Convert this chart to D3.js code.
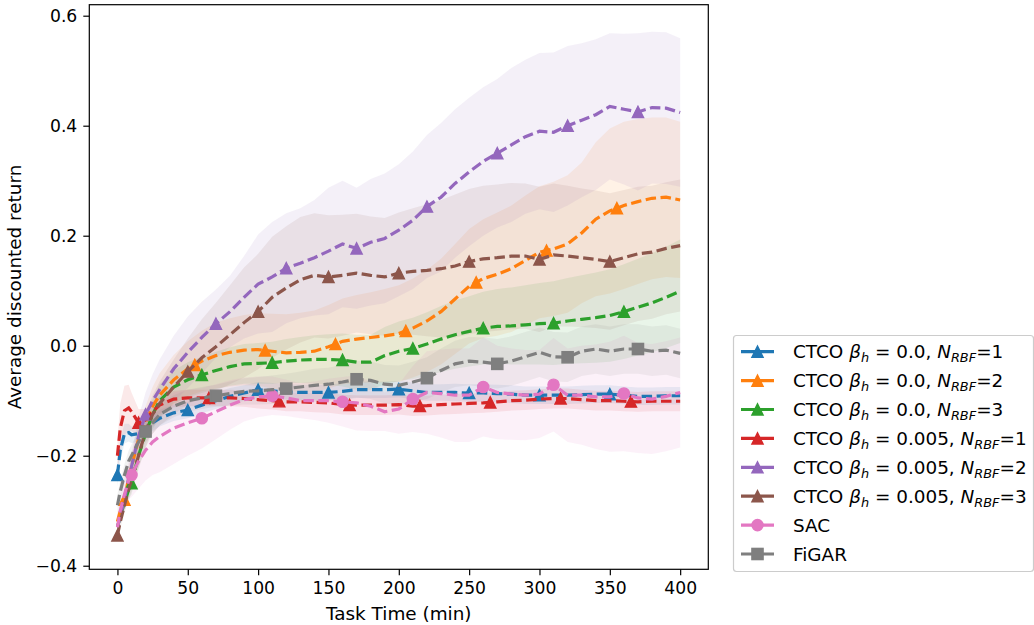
<!DOCTYPE html>
<meta charset="utf-8">
<title>Average discounted return</title>
<script src="https://cdn.jsdelivr.net/npm/d3@7"></script>
<style>
body {margin: 0; background: #fff;}
text {font-family: "DejaVu Sans", sans-serif; fill: #000;}
</style>
<body>
<div id="chart"></div>
<script>
// sampled task times (min)
var times = [0,2,5,8,10,15,20,25,30,40,50,60,70,80,90,100,110,120,130,140,150,160,170,180,190,200,
  210,220,230,240,250,260,270,280,290,300,310,320,330,340,350,360,370,380,390,400];

// mean returns
var b0n1 = [-0.235,-0.19,-0.16,-0.158,-0.162,-0.16,-0.15,-0.14,-0.132,-0.122,-0.117,-0.108,-0.1,-0.092,-0.086,-0.08,-0.082,-0.084,-0.085,-0.085,-0.085,-0.083,-0.08,-0.08,-0.08,-0.079,
  -0.082,-0.085,-0.085,-0.085,-0.086,-0.086,-0.087,-0.088,-0.09,-0.09,-0.09,-0.09,-0.089,-0.088,-0.088,-0.09,-0.092,-0.092,-0.091,-0.091];
var b0n2 = [-0.32,-0.3,-0.28,-0.24,-0.22,-0.17,-0.14,-0.11,-0.09,-0.062,-0.042,-0.028,-0.018,-0.012,-0.008,-0.007,-0.01,-0.013,-0.012,-0.01,-0.002,0.008,0.012,0.015,0.018,0.022,
  0.032,0.045,0.062,0.085,0.108,0.122,0.13,0.14,0.155,0.17,0.176,0.185,0.205,0.23,0.245,0.255,0.262,0.268,0.27,0.265];
var b0n3 = [-0.33,-0.31,-0.285,-0.262,-0.25,-0.2,-0.16,-0.125,-0.1,-0.075,-0.062,-0.053,-0.045,-0.038,-0.033,-0.032,-0.031,-0.028,-0.026,-0.025,-0.025,-0.026,-0.03,-0.03,-0.018,-0.01,
  -0.005,0.003,0.012,0.02,0.026,0.032,0.035,0.036,0.038,0.04,0.041,0.045,0.048,0.051,0.055,0.062,0.07,0.078,0.088,0.099];
var b5n1 = [-0.2,-0.15,-0.118,-0.113,-0.12,-0.14,-0.135,-0.12,-0.108,-0.097,-0.095,-0.095,-0.095,-0.095,-0.096,-0.098,-0.1,-0.102,-0.102,-0.103,-0.104,-0.107,-0.108,-0.108,-0.108,-0.107,
  -0.11,-0.109,-0.107,-0.106,-0.105,-0.104,-0.102,-0.1,-0.099,-0.097,-0.096,-0.096,-0.098,-0.1,-0.1,-0.101,-0.102,-0.101,-0.101,-0.101];
var b5n2 = [-0.33,-0.31,-0.28,-0.24,-0.22,-0.165,-0.125,-0.1,-0.08,-0.042,-0.012,0.015,0.04,0.062,0.088,0.112,0.125,0.141,0.15,0.16,0.172,0.185,0.177,0.188,0.195,0.21,
  0.228,0.253,0.27,0.295,0.316,0.335,0.35,0.365,0.38,0.39,0.388,0.4,0.41,0.42,0.435,0.43,0.425,0.433,0.432,0.424];
var b5n3 = [-0.345,-0.32,-0.29,-0.26,-0.245,-0.2,-0.155,-0.125,-0.105,-0.075,-0.047,-0.022,-0.002,0.02,0.042,0.062,0.088,0.105,0.12,0.128,0.125,0.128,0.132,0.128,0.125,0.132,
  0.135,0.137,0.14,0.145,0.153,0.158,0.16,0.163,0.163,0.157,0.165,0.163,0.16,0.157,0.153,0.16,0.167,0.17,0.177,0.182];
var sac = [-0.33,-0.3,-0.27,-0.245,-0.235,-0.21,-0.19,-0.175,-0.165,-0.15,-0.14,-0.132,-0.12,-0.108,-0.098,-0.093,-0.091,-0.095,-0.1,-0.1,-0.1,-0.102,-0.104,-0.11,-0.12,-0.115,
  -0.097,-0.085,-0.087,-0.09,-0.09,-0.075,-0.085,-0.088,-0.09,-0.088,-0.071,-0.09,-0.09,-0.093,-0.093,-0.087,-0.095,-0.097,-0.092,-0.085];
var figar = [-0.29,-0.265,-0.235,-0.21,-0.2,-0.175,-0.156,-0.14,-0.125,-0.11,-0.1,-0.095,-0.091,-0.087,-0.083,-0.082,-0.08,-0.078,-0.075,-0.072,-0.07,-0.066,-0.061,-0.063,-0.07,-0.072,
  -0.066,-0.059,-0.045,-0.033,-0.028,-0.03,-0.033,-0.028,-0.02,-0.012,-0.02,-0.021,-0.01,-0.006,-0.01,-0.006,-0.006,-0.01,-0.008,-0.014];

// spread (half width of the shaded band)
var b0n1Sd = [0.02,0.02,0.018,0.016,0.015,0.015,0.015,0.015,0.015,0.015,0.015,0.015,0.015,0.015,0.014,0.014,0.014,0.014,0.014,0.014,0.014,0.015,0.015,0.015,0.015,0.015,
  0.015,0.015,0.015,0.016,0.016,0.016,0.016,0.016,0.016,0.016,0.016,0.016,0.016,0.016,0.016,0.016,0.016,0.016,0.016,0.016];
var b0n2Sd = [0.01,0.012,0.015,0.018,0.02,0.025,0.03,0.035,0.04,0.045,0.05,0.055,0.06,0.062,0.064,0.066,0.068,0.07,0.072,0.074,0.076,0.078,0.08,0.082,0.085,0.088,
  0.09,0.093,0.096,0.1,0.104,0.108,0.112,0.115,0.118,0.12,0.122,0.125,0.128,0.14,0.15,0.152,0.15,0.147,0.145,0.142];
var b0n3Sd = [0.01,0.012,0.015,0.017,0.02,0.022,0.025,0.027,0.03,0.03,0.032,0.033,0.034,0.035,0.036,0.037,0.038,0.04,0.042,0.044,0.046,0.048,0.05,0.05,0.052,0.054,
  0.056,0.058,0.06,0.062,0.064,0.066,0.068,0.07,0.072,0.074,0.076,0.078,0.08,0.082,0.084,0.086,0.088,0.09,0.092,0.094];
var b5n1Sd = [0.03,0.045,0.045,0.042,0.035,0.025,0.02,0.018,0.016,0.015,0.015,0.015,0.015,0.015,0.015,0.016,0.016,0.017,0.017,0.018,0.018,0.018,0.018,0.018,0.018,0.018,
  0.018,0.018,0.018,0.018,0.018,0.018,0.018,0.018,0.018,0.018,0.018,0.018,0.018,0.018,0.018,0.018,0.018,0.018,0.018,0.018];
var b5n2Sd = [0.01,0.012,0.015,0.02,0.025,0.035,0.04,0.048,0.055,0.06,0.065,0.065,0.062,0.065,0.075,0.09,0.1,0.1,0.1,0.105,0.115,0.115,0.11,0.115,0.118,0.12,
  0.125,0.13,0.135,0.135,0.135,0.135,0.135,0.14,0.14,0.142,0.145,0.145,0.14,0.137,0.133,0.137,0.143,0.138,0.138,0.135];
var b5n3Sd = [0.01,0.012,0.015,0.018,0.02,0.025,0.03,0.035,0.04,0.05,0.06,0.07,0.08,0.09,0.1,0.105,0.11,0.112,0.114,0.113,0.112,0.11,0.108,0.107,0.107,0.11,
  0.115,0.12,0.125,0.13,0.132,0.133,0.133,0.133,0.132,0.132,0.13,0.128,0.126,0.125,0.124,0.123,0.122,0.121,0.12,0.12];
var sacSd = [0.02,0.025,0.03,0.035,0.04,0.05,0.055,0.06,0.065,0.065,0.06,0.055,0.05,0.045,0.04,0.037,0.035,0.033,0.032,0.035,0.04,0.045,0.05,0.045,0.035,0.045,
  0.06,0.075,0.08,0.085,0.085,0.09,0.085,0.083,0.082,0.08,0.085,0.085,0.09,0.095,0.1,0.105,0.1,0.1,0.1,0.1];
var figarSd = [0.02,0.02,0.02,0.02,0.02,0.02,0.02,0.02,0.02,0.02,0.02,0.02,0.02,0.022,0.024,0.025,0.026,0.027,0.028,0.03,0.03,0.032,0.033,0.034,0.035,0.036,
  0.037,0.038,0.04,0.042,0.044,0.045,0.045,0.045,0.045,0.045,0.045,0.045,0.045,0.045,0.045,0.045,0.045,0.045,0.045,0.045];

// legend labels
var betas = ["0.0", "0.0", "0.0", "0.005", "0.005", "0.005"];
var nRbf = ["1", "2", "3", "1", "2", "3"];
var otherNames = ["SAC", "FiGAR"];
var xTicks = [0, 50, 100, 150, 200, 250, 300, 350, 400];
var yTicks = [-0.4, -0.2, 0.0, 0.2, 0.4, 0.6];

var series = [
  {mean: b0n1, sd: b0n1Sd, color: "#1f77b4", marker: "tri", offset: 0},
  {mean: b0n2, sd: b0n2Sd, color: "#ff7f0e", marker: "tri", offset: 5},
  {mean: b0n3, sd: b0n3Sd, color: "#2ca02c", marker: "tri", offset: 10},
  {mean: b5n1, sd: b5n1Sd, color: "#d62728", marker: "tri", offset: 15},
  {mean: b5n2, sd: b5n2Sd, color: "#9467bd", marker: "tri", offset: 20},
  {mean: b5n3, sd: b5n3Sd, color: "#8c564b", marker: "tri", offset: 0},
  {mean: sac, sd: sacSd, color: "#e377c2", marker: "circle", offset: 10},
  {mean: figar, sd: figarSd, color: "#7f7f7f", marker: "square", offset: 20}
];

var margin = {top: 4.7, left: 89.3},
    width = 619,
    height = 564.6;

var svg = d3.select("#chart")
  .append("svg")
    .attr("width", 1034)
    .attr("height", 625);

var g = svg.append("g")
  .attr("transform", "translate(" + margin.left + "," + margin.top + ")");

var x = d3.scaleLinear().domain([-20, 420]).range([0, width]);
var y = d3.scaleLinear().domain([-0.4065, 0.62]).range([height, 0]);

g.append("clipPath").attr("id", "plotclip")
  .append("rect").attr("width", width).attr("height", height);

var plot = g.append("g").attr("clip-path", "url(#plotclip)");

// value of a series at time t, to sit markers on the line
function valueAt(arr, t) {
  for (var i = 0; i < times.length - 1; i++) {
    if (t >= times[i] && t <= times[i + 1]) {
      var f = (t - times[i]) / (times[i + 1] - times[i]);
      return arr[i] + f * (arr[i + 1] - arr[i]);
    }
  }
  return arr[arr.length - 1];
}

var ms = 11.2;
function drawMarker(sel, kind, color, cx, cy) {
  if (kind == "circle") {
    sel.append("circle").attr("cx", cx).attr("cy", cy).attr("r", ms / 2)
      .attr("fill", color).attr("stroke", color).attr("stroke-width", 1.4);
  } else if (kind == "square") {
    sel.append("rect").attr("x", cx - ms / 2).attr("y", cy - ms / 2)
      .attr("width", ms).attr("height", ms)
      .attr("fill", color).attr("stroke", color).attr("stroke-width", 1.4);
  } else {
    sel.append("path")
      .attr("d", "M" + cx + "," + (cy - ms / 2) + "L" + (cx + ms / 2) + "," + (cy + ms / 2) + "L" + (cx - ms / 2) + "," + (cy + ms / 2) + "Z")
      .attr("fill", color).attr("stroke", color).attr("stroke-width", 1.4).attr("stroke-linejoin", "miter");
  }
}

var area = d3.area()
  .x(function(d, i) { return x(times[i]); })
  .y0(function(d) { return y(d[0] - d[1]); })
  .y1(function(d) { return y(d[0] + d[1]); });

var line = d3.line()
  .x(function(d, i) { return x(times[i]); })
  .y(function(d) { return y(d); });

// shaded bands
series.forEach(function(s) {
  plot.append("path")
    .datum(s.mean.map(function(m, i) { return [m, s.sd[i]]; }))
    .attr("d", area)
    .attr("fill", s.color)
    .attr("fill-opacity", 0.1);
});

// dashed lines with markers every 50 min
series.forEach(function(s) {
  var sg = plot.append("g");
  sg.append("path")
    .datum(s.mean)
    .attr("d", line)
    .attr("fill", "none")
    .attr("stroke", s.color)
    .attr("stroke-width", 3.2)
    .attr("stroke-dasharray", "10.5,4.5");
  for (var k = 0; k < 8; k++) {
    var t = s.offset + 50 * k;
    drawMarker(sg, s.marker, s.color, x(t), y(valueAt(s.mean, t)));
  }
});

// axes
var xAxis = g.append("g")
  .attr("transform", "translate(0," + height + ")")
  .call(d3.axisBottom(x).tickValues(xTicks).tickSize(6).tickPadding(6));
var yAxis = g.append("g")
  .call(d3.axisLeft(y).tickValues(yTicks).tickSize(6).tickPadding(6).tickFormat(d3.format(".1f")));
[xAxis, yAxis].forEach(function(a) {
  a.select(".domain").remove();
  a.selectAll("line").attr("stroke", "#000").attr("stroke-width", 1.2);
  a.selectAll("text").attr("font-size", "17.2px").attr("font-family", "DejaVu Sans").attr("fill", "#000");
});

g.append("rect")
  .attr("width", width).attr("height", height)
  .attr("fill", "none").attr("stroke", "#000").attr("stroke-width", 1.2);

svg.append("text")
  .attr("x", margin.left + width / 2)
  .attr("y", 620)
  .attr("text-anchor", "middle")
  .attr("font-size", "18.4px")
  .text("Task Time (min)");

svg.append("text")
  .attr("transform", "translate(21," + (margin.top + height / 2) + ") rotate(-90)")
  .attr("text-anchor", "middle")
  .attr("font-size", "18.4px")
  .text("Average discounted return");

// legend
var leg = svg.append("g");
leg.append("rect")
  .attr("x", 733.5).attr("y", 335.5)
  .attr("width", 300).attr("height", 236)
  .attr("rx", 3)
  .attr("fill", "#fff").attr("fill-opacity", 0.8)
  .attr("stroke", "#cccccc").attr("stroke-width", 1.2);

series.forEach(function(s, i) {
  var cy = 351.7 + i * 28.9;
  leg.append("line")
    .attr("x1", 741).attr("x2", 774).attr("y1", cy).attr("y2", cy)
    .attr("stroke", s.color).attr("stroke-width", 3.2);
  drawMarker(leg, s.marker, s.color, 757.5, cy);
  var t = leg.append("text")
    .attr("x", 793).attr("y", cy + 6.5)
    .attr("font-size", "18.4px");
  if (i < 6) {
    t.append("tspan").text("CTCO ");
    t.append("tspan").attr("font-style", "italic").text("β");
    t.append("tspan").attr("font-style", "italic").attr("font-size", "12.9px").attr("dy", 4).text("h");
    t.append("tspan").attr("dy", -4).text(" = " + betas[i] + ", ");
    t.append("tspan").attr("font-style", "italic").text("N");
    t.append("tspan").attr("font-style", "italic").attr("font-size", "12.9px").attr("dy", 4).text("RBF");
    t.append("tspan").attr("dy", -4).text("=" + nRbf[i]);
  } else {
    t.text(otherNames[i - 6]);
  }
});
</script>
</body>
